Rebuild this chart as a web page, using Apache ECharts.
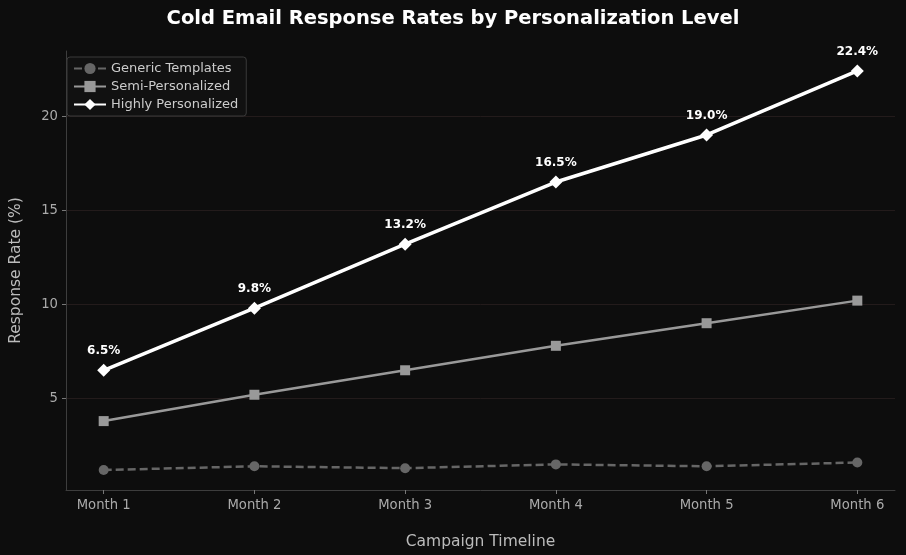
<!DOCTYPE html>
<html><head><meta charset="utf-8">
<script src="https://cdn.jsdelivr.net/npm/echarts@6/dist/echarts.min.js"></script>
<style>html,body{margin:0;padding:0;background:#0d0d0d}#c{width:906px;height:555px}</style>
</head><body><div id="c"></div>
<script>
const months = ['Month 1','Month 2','Month 3','Month 4','Month 5','Month 6'];
const genericTemplates = [1.2, 1.4, 1.3, 1.5, 1.4, 1.6];
const semiPersonalized = [3.8, 5.2, 6.5, 7.8, 9.0, 10.2];
const highlyPersonalized = [6.5, 9.8, 13.2, 16.5, 19.0, 22.4];
const yTicks = [5, 10, 15, 20];

const F = 'DejaVu Sans';
const pts = arr => arr.map((v, i) => [i, v]);
const chart = echarts.init(document.getElementById('c'), null, {renderer: 'canvas'});
chart.setOption({
  backgroundColor: '#0d0d0d',
  animation: false,
  textStyle: {fontFamily: F},
  title: {
    text: 'Cold Email Response Rates by Personalization Level',
    left: 'center', top: 4,
    textStyle: {color: '#ffffff', fontSize: 19.5, fontWeight: 'bold', fontFamily: F}
  },
  legend: {
    left: 67, top: 57, orient: 'vertical', itemGap: 5, itemWidth: 32, itemHeight: 14,
    backgroundColor: '#111111', borderColor: '#3a3a3a', borderWidth: 1, borderRadius: 3,
    padding: [5, 8, 5, 6],
    textStyle: {color: '#cccccc', fontSize: 13, fontFamily: F},
    data: ['Generic Templates', 'Semi-Personalized', 'Highly Personalized']
  },
  grid: {left: 66, right: 11, top: 51, bottom: 63},
  xAxis: {
    type: 'value', min: -0.25, max: 5.25,
    name: 'Campaign Timeline', nameLocation: 'middle', nameGap: 44,
    nameTextStyle: {color: '#bbbbbb', fontSize: 15.5, fontFamily: F},
    axisLine: {show: true, onZero: false, lineStyle: {color: '#3d3d3d', width: 1}},
    axisTick: {show: true, customValues: [0,1,2,3,4,5], length: 4, lineStyle: {color: '#777'}},
    axisLabel: {customValues: [0,1,2,3,4,5], formatter: v => months[Math.round(v)], color: '#aaaaaa', fontSize: 13.2, margin: 9, fontFamily: F},
    splitLine: {show: false}
  },
  yAxis: {
    type: 'value', min: 0.14, max: 23.46,
    name: 'Response Rate (%)', nameLocation: 'middle', nameGap: 42, nameRotate: 90,
    nameTextStyle: {color: '#bbbbbb', fontSize: 15.5, fontFamily: F},
    axisLine: {show: true, onZero: false, lineStyle: {color: '#3d3d3d', width: 1}},
    axisTick: {show: true, customValues: yTicks, length: 4, lineStyle: {color: '#777'}},
    axisLabel: {customValues: yTicks, color: '#aaaaaa', fontSize: 13.2, margin: 8, fontFamily: F},
    splitLine: {show: false}
  },
  series: [
    {
      name: 'Generic Templates', type: 'line', data: pts(genericTemplates),
      symbol: 'circle', symbolSize: 10,
      lineStyle: {color: '#666666', width: 2.5, type: [8, 4]},
      itemStyle: {color: '#666666'},
      markLine: {
        silent: true, symbol: 'none', label: {show: false},
        lineStyle: {color: '#2a1f1f', width: 0.8, type: 'solid'},
        data: yTicks.map(t => ({yAxis: t})), z: 0
      },
      z: 2
    },
    {
      name: 'Semi-Personalized', type: 'line', data: pts(semiPersonalized),
      symbol: 'rect', symbolSize: 10,
      lineStyle: {color: '#999999', width: 2.5},
      itemStyle: {color: '#999999'},
      z: 3
    },
    {
      name: 'Highly Personalized', type: 'line', data: pts(highlyPersonalized),
      symbol: 'diamond', symbolSize: 13,
      lineStyle: {color: '#ffffff', width: 3.5},
      itemStyle: {color: '#ffffff'},
      label: {show: true, position: 'top', distance: 7, color: '#ffffff', fontWeight: 'bold', fontSize: 12, fontFamily: F,
        formatter: p => p.value[1].toFixed(1) + '%'},
      z: 4
    }
  ]
});
</script></body></html>
